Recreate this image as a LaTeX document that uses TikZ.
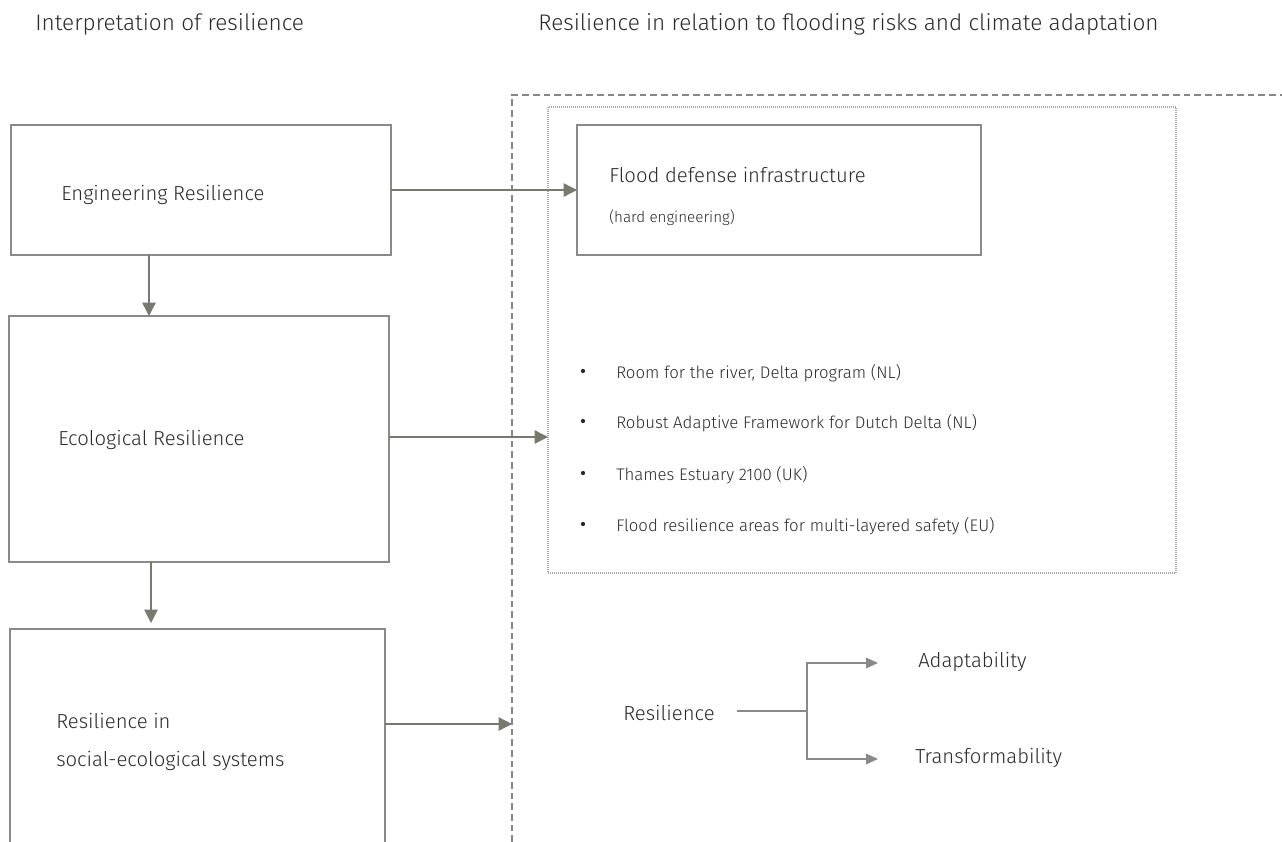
\documentclass[tikz,border=0pt]{standalone}
\usepackage{fontspec}
\setmainfont{Fira Sans Light}
\usetikzlibrary{arrows.meta}
\definecolor{boxgray}{HTML}{8A8A8A}
\definecolor{arrowcol}{HTML}{777A6C}
\definecolor{dotgray}{HTML}{A8A8A8}
\definecolor{txt}{HTML}{2A2A2A}
\tikzset{
  box/.style={draw=boxgray, line width=1pt},
  conn/.style={draw=arrowcol, line width=1pt, -{Triangle[length=10pt,width=10pt]}},
  plain/.style={draw=boxgray, line width=1pt},
  txtbase/.style={anchor=west, inner sep=0pt, text=txt, yshift=-1.5pt},
  lbl/.style={txtbase, font=\fontsize{15.2}{18}\selectfont},
  head/.style={txtbase, font=\fontsize{16.9}{20}\selectfont},
  small/.style={txtbase, font=\fontsize{11.4}{13}\selectfont},
  item/.style={txtbase, font=\fontsize{12.6}{15}\selectfont},
  dot/.style={circle, fill=txt, inner sep=0pt, minimum size=3.2pt},
}
\begin{document}
\begin{tikzpicture}[x=0.75pt, y=-0.75pt]
\useasboundingbox (0,0) rectangle (1282,842);

% headings
\node[head] (h1) at (35,22) {Interpretation of resilience};
\node[head] (h2) at (538,22) {Resilience in relation to flooding risks and climate adaptation};

% outer dashed region (open to the right and bottom)
\coordinate (dA) at (512,842);
\coordinate (dB) at (512,95);
\coordinate (dC) at (1282,95);
\draw[dotgray!80!black, line width=1pt, dash pattern=on 5pt off 3pt] (dA) -- (dB) -- (dC);
\coordinate (dmid) at (512,724);

% inner dotted frame
\draw[dotgray, line width=1pt, dash pattern=on 1pt off 0.5pt] (548,107) rectangle (1176,573);
\coordinate (dotL) at (548,437);

% left column boxes
\draw[box] (11,125) rectangle (391,255);
\coordinate (engR) at (391,190);
\coordinate (engB) at (149,255);
\node[lbl] (eng) at (61,193) {Engineering Resilience};

\draw[box] (9,316) rectangle (389,562);
\coordinate (ecoT) at (149,316);
\coordinate (ecoR) at (389,437);
\coordinate (ecoB) at (151,562);
\node[lbl] (eco) at (58,438) {Ecological Resilience};

\draw[box] (10,845) -- (10,629) -- (385,629) -- (385,845);
\coordinate (sesT) at (151,623);
\coordinate (sesR) at (385,724);
\node[lbl] (ses1) at (56,719) {Resilience in};
\node[lbl] (ses2) at (56,759) {social-ecological systems};

% flood defense box
\draw[box] (577,125) rectangle (981,255);
\coordinate (fdL) at (577,190);
\node[lbl] (fd) at (609,173) {Flood defense infrastructure};
\node[small] (fdh) at (609,216) {(hard engineering)};

% bullet list
\foreach \y/\t [count=\i] in {371/{Room for the river, Delta program (NL)},
                   421/{Robust Adaptive Framework for Dutch Delta (NL)},
                   473/{Thames Estuary 2100 (UK)},
                   524/{Flood resilience areas for multi-layered safety (EU)}}{
  \node[dot] (b\i) at (583,\y) {};
  \node[item] (t\i) at (616,\y) {\t};
}

% resilience branches
\node[lbl] (res) at (623,711) {Resilience};
\node[lbl] (ada) at (918,660) {Adaptability};
\node[lbl] (tra) at (915,756) {Transformability};
\coordinate (rs) at (737,711);
\coordinate (rj) at (807,711);
\coordinate (ra) at (878,663);
\coordinate (rt) at (878,759);
\draw[plain] (rs) -- (rj);
\draw[plain, -{Triangle[length=9pt,width=8pt]}] (rj) |- (ra);
\draw[plain, -{Triangle[length=9pt,width=8pt]}] (rj) |- (rt);

% connectors
\draw[conn] (engR) -- (fdL);
\draw[conn] (engB) -- (ecoT);
\draw[conn] (ecoR) -- (dotL);
\draw[conn] (ecoB) -- (sesT);
\draw[conn] (sesR) -- (dmid);
\end{tikzpicture}
\end{document}
